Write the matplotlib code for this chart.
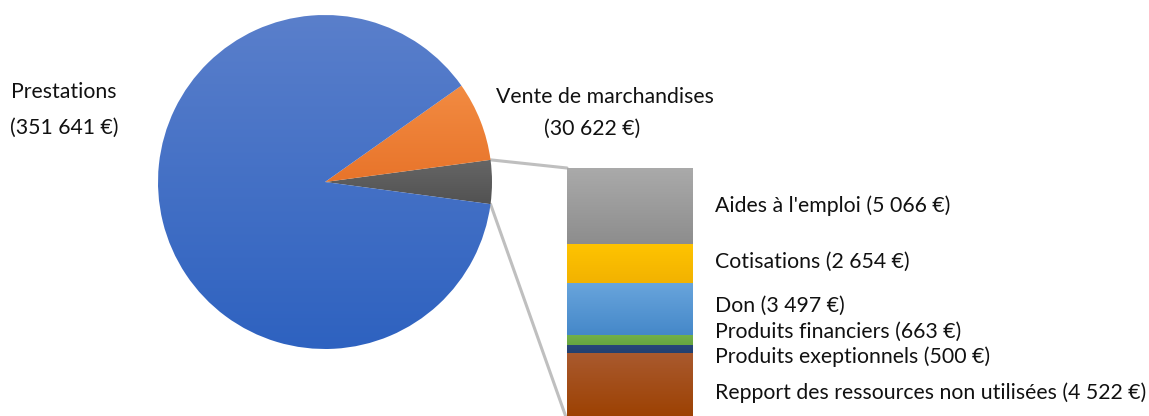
import numpy as np
import matplotlib
matplotlib.use("Agg")
import matplotlib.pyplot as plt
from matplotlib.patches import ConnectionPatch
from matplotlib.colors import to_rgb

# ---- data ----
pie_labels = ["Autres", "Vente de marchandises", "Prestations"]
pie_values = [16902, 30622, 351641]
bar_labels = ["Repport des ressources non utilisées", "Produits exeptionnels",
              "Produits financiers", "Don", "Cotisations", "Aides à l'emploi"]
bar_values = [4522, 500, 663, 3497, 2654, 5066]

FONT = ["Lato", "DejaVu Sans"]
plt.rcParams["font.family"] = FONT

W, H = 1149, 416
fig = plt.figure(figsize=(W / 100, H / 100), dpi=100)

def fx(px):
    return px / W

def fy(py):
    return 1 - py / H

def fmt(v):
    return f"{v:,}".replace(",", " ") + " €"

def gradient_fill(ax, patch, c_top, c_bot, z=2):
    ext = patch.get_path().get_extents(patch.get_patch_transform())
    t = np.linspace(0, 1, 256)[:, None]
    ct, cb = np.array(to_rgb(c_top)), np.array(to_rgb(c_bot))
    img = cb[None, None, :] * (1 - t[:, :, None]) + ct[None, None, :] * t[:, :, None]
    im = ax.imshow(img, extent=[ext.x0, ext.x1, ext.y0, ext.y1], origin="lower",
                   aspect="auto", zorder=z, interpolation="bilinear")
    im.set_clip_path(patch)
    patch.set_alpha(0)

# ---- pie ----
cx, cy, r = 325, 182, 167
ax_pie = fig.add_axes([fx(cx - r), fy(cy + r), fx(2 * r), 2 * r / H])
total = sum(pie_values)
start = -360 * pie_values[0] / total / 2
wedges, _ = ax_pie.pie(pie_values, startangle=start, radius=1,
                       colors=["#5a5a5a", "#ed7d31", "#4472c4"],
                       wedgeprops=dict(linewidth=0))
pie_grad = [("#666666", "#525252"), ("#f28b42", "#e8742a"), ("#5a7fcb", "#2e62c0")]
for w, (ct, cb) in zip(wedges, pie_grad):
    gradient_fill(ax_pie, w, ct, cb)
ax_pie.set_xlim(-1, 1)
ax_pie.set_ylim(-1, 1)
ax_pie.set_aspect("equal")
ax_pie.axis("off")

# ---- bar ----
bar_left, bar_right, bar_top, bar_bottom = 567, 693, 168, 420
ax_bar = fig.add_axes([fx(bar_left), fy(bar_bottom), fx(bar_right - bar_left),
                       (bar_bottom - bar_top) / H])
bar_grad = [("#a95a2f", "#9c4000"), ("#284679", "#22406f"), ("#72b04a", "#67a540"),
            ("#69a5dc", "#4588c9"), ("#ffc400", "#f2b200"), ("#aaaaaa", "#8d8d8d")]
bottoms = np.concatenate([[0], np.cumsum(bar_values)[:-1]])
rects = ax_bar.bar(0, bar_values, bottom=bottoms, width=1, linewidth=0,
                   color=[g[0] for g in bar_grad])
for rect, (ct, cb) in zip(rects, bar_grad):
    gradient_fill(ax_bar, rect, ct, cb)
ax_bar.set_xlim(-0.5, 0.5)
ax_bar.set_ylim(0, sum(bar_values))
ax_bar.axis("off")

# ---- connector lines ----
th1 = np.deg2rad(wedges[0].theta1)
th2 = np.deg2rad(wedges[0].theta2)
for th, yb in [(th2, sum(bar_values)), (th1, 0)]:
    con = ConnectionPatch(xyA=(np.cos(th), np.sin(th)), coordsA=ax_pie.transData,
                          xyB=(-0.5, yb), coordsB=ax_bar.transData,
                          color="#bfbfbf", linewidth=2.2, zorder=0)
    fig.add_artist(con)

# ---- labels ----
fs = 15.3
tc = "#111111"
fig.text(fx(64), fy(92), pie_labels[2], ha="center", va="center", fontsize=fs, color=tc)
fig.text(fx(64), fy(128), "(" + fmt(pie_values[2]) + ")", ha="center", va="center",
         fontsize=fs, color=tc)
fig.text(fx(605), fy(97), pie_labels[1], ha="center", va="center", fontsize=fs, color=tc)
fig.text(fx(592), fy(129), "(" + fmt(pie_values[1]) + ")", ha="center", va="center",
         fontsize=fs, color=tc)

label_y = {5: 206, 4: 262, 3: 306, 2: 332, 1: 357, 0: 393}
for i, (lab, v) in enumerate(zip(bar_labels, bar_values)):
    fig.text(fx(715), fy(label_y[i]), f"{lab} ({fmt(v)})", ha="left", va="center",
             fontsize=fs, color=tc)

fig.savefig("out.png", dpi=100, facecolor="white")
